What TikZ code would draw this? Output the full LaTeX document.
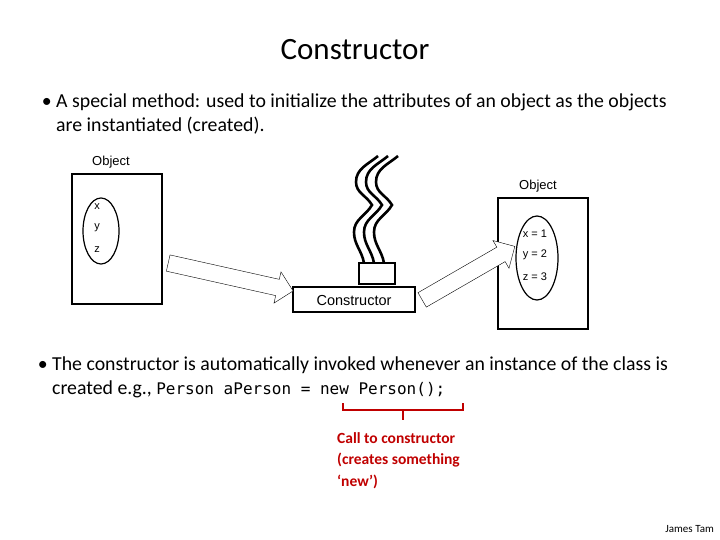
\documentclass[tikz,border=0pt]{standalone}
\usepackage{fontspec}
\setmainfont{Carlito}
\newfontfamily\objfont{Liberation Sans}
\newfontfamily\codefont{DejaVu Sans Mono}
\usetikzlibrary{positioning,shapes.arrows}
\definecolor{callred}{RGB}{192,0,0}

\begin{document}
\begin{tikzpicture}[x=1pt,y=-1pt,
	objbox/.style={draw,very thick},
	lbl/.style={font=\objfont\fontsize{13}{15}\selectfont,inner sep=0pt},
	small/.style={font=\objfont\fontsize{11}{13}\selectfont,inner sep=0pt},
	bullet/.style={anchor=north west,align=left,inner sep=0pt,
		font=\fontsize{19.8}{24}\selectfont},
	blockarrow/.style={draw,thin,fill=white,single arrow,minimum width=32pt,
		inner sep=7.5pt,anchor=tail},
	wave/.style={line width=2.6pt}]

\useasboundingbox (0,0) rectangle (720,540);

\node[font=\fontsize{31}{36}\selectfont] (title) at (355,50) {Constructor};
\node[bullet] (intro) at (56,94)
	{\makebox[0pt][r]{\textbullet\ }A special method: used to initialize the attributes of an object as the objects\\are instantiated (created).};

% object before
\draw[objbox] (72,174) rectangle (162,304);
\draw[very thick] (101,231) ellipse [x radius=18, y radius=33];
\node[lbl] (oldname) at (111,162) {Object};
\foreach \t/\y in {x/207,y/228,z/250}
	\node[small] (old\t) at (97,\y) {\t};

% constructor with wires
\draw[objbox] (293,287) rectangle (415,312);
\node[lbl,font=\objfont\fontsize{14.5}{17}\selectfont] (ctor) at (354,301) {Constructor};
\draw[objbox] (359,263) rectangle (395,284);
\foreach \i in {0,1,2} {
	\draw[wave] (364+\i*10,263) to[out=100,in=-90] (354+\i*10,232)
		to[out=90,in=-120] (372+\i*10,205)
		to[out=120,in=-90] (356+\i*10,182)
		to[out=90,in=-140] (378+\i*10,156);
}

% object after
\draw[objbox] (498,198) rectangle (588,329);
\draw[very thick] (537,258) ellipse [x radius=21, y radius=42];
\node[lbl] (newname) at (538,186) {Object};
\node[small] (newx) at (535,234) {x = 1};
\node[small] (newy) at (535,255) {y = 2};
\node[small] (newz) at (535,277) {z = 3};

\node[blockarrow,minimum height=128pt,rotate=-12.6] (in) at (168,263) {};
\node[blockarrow,minimum height=107pt,rotate=30] (out) at (422,300) {};

\node[bullet] (invoke) at (52,357)
	{\makebox[0pt][r]{\textbullet\ }The constructor is automatically invoked whenever an instance of the class is\\created e.g., {\codefont\fontsize{16}{24}\selectfont Person aPerson = new Person();}};

\coordinate (bl) at (343,403);
\coordinate (br) at (463,403);
\draw[callred,line width=2pt] (bl) -- (343,410) -- (463,410) -- (br);
\draw[callred,line width=2pt] (403,410) -- (403,420);
\node[anchor=north west,align=left,text=callred,inner sep=0pt,
	font=\fontsize{15.5}{21.5}\selectfont\bfseries] (call) at (337,432)
	{Call to constructor\\(creates something\\‘new’)};

\node[anchor=south east,inner sep=0pt,font=\fontsize{11}{12}\selectfont] (author) at (714,533) {James Tam};
\end{tikzpicture}
\end{document}
